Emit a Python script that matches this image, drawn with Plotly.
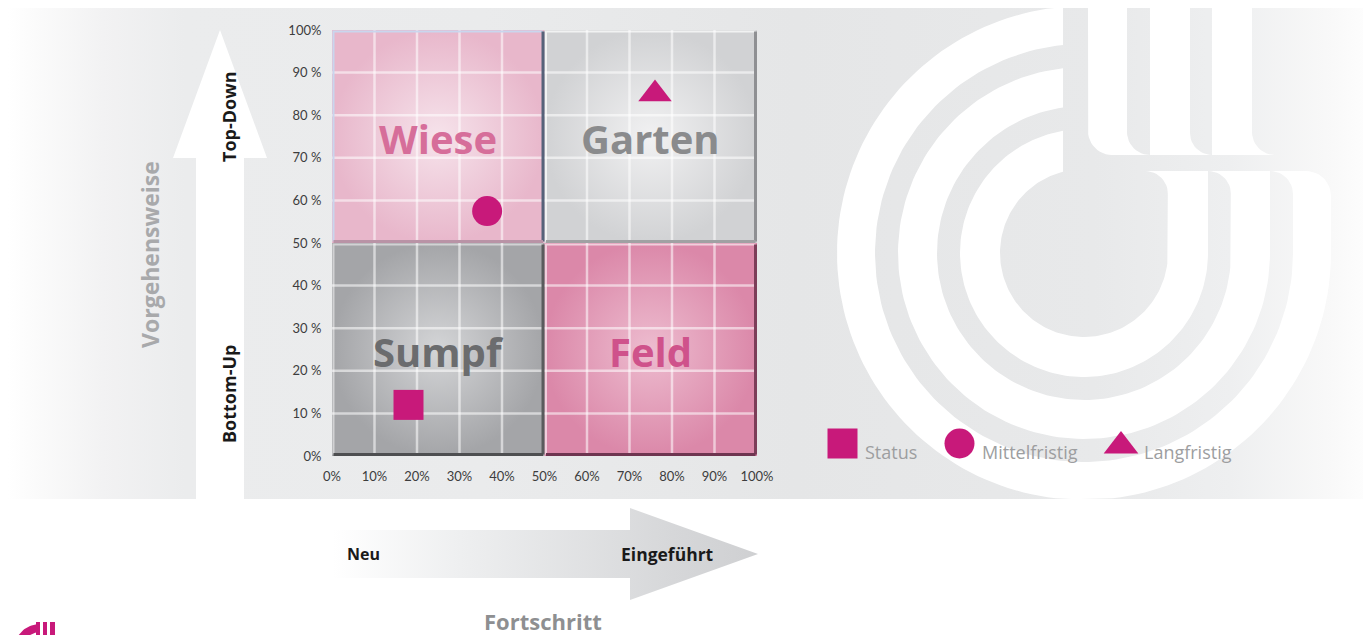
import math
import plotly.graph_objects as go

W, H = 1371, 635
OFF = 8                 # page margin of the browser body
FW, FH = W - OFF, H - OFF

# ---------------- data ----------------
x_tickvals = [0, 10, 20, 30, 40, 50, 60, 70, 80, 90, 100]
x_ticktext = ["0%", "10%", "20%", "30%", "40%", "50%", "60%", "70%", "80%", "90%", "100%"]
y_tickvals = [0, 10, 20, 30, 40, 50, 60, 70, 80, 90, 100]
y_ticktext = ["0%", "10 %", "20 %", "30 %", "40 %", "50 %", "60 %", "70 %", "80 %", "90 %", "100%"]

quadrant_names = ["Wiese", "Garten", "Sumpf", "Feld"]
quadrant_x0 = [0, 50, 0, 50]
quadrant_x1 = [50, 100, 50, 100]
quadrant_y0 = [50, 50, 0, 0]
quadrant_y1 = [100, 100, 50, 50]

series_names = ["Status", "Mittelfristig", "Langfristig"]
series_x = [18, 36.5, 76]
series_y = [12, 57.5, 85]
series_symbols = ["square", "circle", "triangle-up"]

# ---------------- styles ----------------
MAG = "#c8197a"
quad_center = ["#f6e3eb", "#f1f1f2", "#d4d5d7", "#edbccf"]
quad_edge = ["#e8b7cb", "#d1d2d4", "#a4a5a8", "#db88a9"]
quad_text = ["#d66e9a", "#8a8b8d", "#6b6c6e", "#cf528b"]
quad_shadow_r = ["#56627a", "#8f9093", "#5a5b5d", "#7c3e59"]
quad_shadow_b = ["#b993a6", "#a0a1a3", "#4e4f51", "#6e3550"]
quad_light = ["#c9d6ee", "rgba(255,255,255,0.7)", "rgba(255,255,255,0.5)", "rgba(255,255,255,0.6)"]

fig = go.Figure()


def bg(xs, ys, color=None, grad=None):
    tr = dict(x=xs, y=ys, mode="lines", fill="toself", line=dict(width=0),
              hoverinfo="skip", showlegend=False, xaxis="x", yaxis="y")
    if grad is not None:
        tr["fillgradient"] = grad
    else:
        tr["fillcolor"] = color
    fig.add_trace(go.Scatter(**tr))


# ---------------- background panel ----------------
PT, PB, PL, PR = 8, 499, 8, 1366
bg([PL, PR, PR, PL, PL], [PT, PT, PB, PB, PT],
   grad=dict(type="horizontal", start=PL, stop=PR,
             colorscale=[[0, "#ffffff"], [0.02, "#fbfbfb"], [0.07, "#f2f2f3"],
                         [0.13, "#ebeced"], [0.35, "#eaebec"], [0.58, "#e5e6e7"],
                         [0.8, "#e8e9ea"], [0.9, "#eeeff0"], [0.97, "#f8f8f8"],
                         [1, "#fdfdfd"]]))

# ---------------- decorative logo ----------------
cx, cy = 1084, 253
rings = [(84, 124), (147, 186), (209, 247)]
xcut = 1063
band_top = 171


def clampy(y):
    return min(max(y, PT), PB)


for idx, (ri, ro) in enumerate(rings):
    xs, ys = [], []
    po = math.degrees(math.acos((xcut - cx) / ro))
    pin = math.degrees(math.acos((xcut - cx) / ri))
    n = 140
    for k in range(n + 1):
        a = math.radians(po + (360 - po) * k / n)
        xs.append(cx + ro * math.cos(a))
        ys.append(clampy(cy - ro * math.sin(a)))
    if idx == len(rings) - 1:
        rc = 25
        xs.append(cx + ro); ys.append(band_top + rc)
        for k in range(1, 13):
            a = math.radians(90 * k / 12)
            xs.append(cx + ro - rc + rc * math.cos(a))
            ys.append(band_top + rc - rc * math.sin(a))
    else:
        xs.append(cx + ro); ys.append(band_top)
    xs.append(cx + ri); ys.append(band_top)
    xs.append(cx + ri); ys.append(cy)
    for k in range(n + 1):
        a = math.radians(360 - (360 - pin) * k / n)
        xs.append(cx + ri * math.cos(a))
        ys.append(clampy(cy - ri * math.sin(a)))
    xs.append(xs[0]); ys.append(ys[0])
    bg(xs, ys, color="#ffffff")
    g = 23
    xr = cx + ri
    fx = [xr - g, xr, xr]
    fy = [band_top, band_top, band_top + g]
    for k in range(1, 13):
        a = math.radians(90 * k / 12)
        fx.append(xr - g + g * math.cos(a))
        fy.append(band_top + g - g * math.sin(a))
    bg(fx, fy, color="#ffffff")

# top comb
stem_l = [1088, 1150, 1212]
stem_r = [1127, 1190, 1252]
next_l = [1150, 1212, 1275]
comb_bottom = 155
xs, ys = [stem_l[0]], [PT]
rc = 24
xs.append(stem_l[0]); ys.append(comb_bottom - rc)
for k in range(1, 13):
    a = math.radians(180 + 90 * k / 12)
    xs.append(stem_l[0] + rc + rc * math.cos(a))
    ys.append(comb_bottom - rc - rc * math.sin(a))
xs.append(next_l[-1]); ys.append(comb_bottom)
for j in range(len(stem_r) - 1, -1, -1):
    gw = next_l[j] - stem_r[j]
    if j < len(stem_r) - 1:
        xs.append(next_l[j]); ys.append(PT)
        xs.append(next_l[j]); ys.append(comb_bottom)
    for k in range(1, 13):
        a = math.radians(270 - 90 * k / 12)
        xs.append(next_l[j] + gw * math.cos(a))
        ys.append(comb_bottom - gw - gw * math.sin(a))
    xs.append(stem_r[j]); ys.append(PT)
xs.append(xs[0]); ys.append(ys[0])
bg(xs, ys, color="#ffffff")

# ---------------- arrows ----------------
bg([196, 196, 173, 220, 267, 244, 244, 196],
   [500, 158, 158, 30, 158, 158, 500, 500], color="#ffffff")
bg([333, 630, 630, 758, 630, 630, 333, 333],
   [530, 530, 508, 554, 600, 578, 578, 530],
   grad=dict(type="horizontal", start=333, stop=758,
             colorscale=[[0, "#ffffff"], [0.3, "#eeeff0"], [0.8, "#d6d7d9"], [1, "#cfd0d2"]]))

# small logo bottom-left
lx, ly = 40, 650
xs, ys = [], []
for k in range(0, 21):
    a = math.radians(95 + 70 * k / 20)
    xs.append(lx + 26 * math.cos(a)); ys.append(min(ly - 26 * math.sin(a), 636))
for k in range(0, 21):
    a = math.radians(165 - 70 * k / 20)
    xs.append(lx + 18 * math.cos(a)); ys.append(min(ly - 18 * math.sin(a), 636))
xs.append(xs[0]); ys.append(ys[0])
bg(xs, ys, color=MAG)
for bx0, bx1 in [(36, 40), (43, 47), (50, 55)]:
    bg([bx0, bx1, bx1, bx0, bx0], [622, 622, 636, 636, 622], color=MAG)

# ---------------- legend (drawn manually) ----------------
leg_x = [842.5, 959.5, 1121]
leg_y = [443.5, 443.5, 446]
leg_text_x = [863, 980, 1142]
for i, name in enumerate(series_names):
    fig.add_trace(go.Scatter(
        x=[leg_x[i]], y=[leg_y[i]], mode="markers", xaxis="x", yaxis="y",
        marker=dict(symbol=series_symbols[i], size=30, color=MAG, line=dict(width=0)),
        showlegend=False, hoverinfo="skip"))

# ---------------- quadrant chart ----------------
for i, name in enumerate(quadrant_names):
    x0, x1, y0, y1 = quadrant_x0[i], quadrant_x1[i], quadrant_y0[i], quadrant_y1[i]
    fig.add_trace(go.Scatter(
        x=[x0, x1, x1, x0, x0], y=[y0, y0, y1, y1, y0], mode="lines", fill="toself",
        line=dict(width=0), xaxis="x2", yaxis="y2", hoverinfo="skip", showlegend=False,
        fillgradient=dict(type="radial", colorscale=[[0, quad_center[i]], [1, quad_edge[i]]])))

gx, gy = [], []
for v in [10, 20, 30, 40, 60, 70, 80, 90]:
    gx += [v, v, None]; gy += [0, 100, None]
    gx += [0, 100, None]; gy += [v, v, None]
fig.add_trace(go.Scatter(x=gx, y=gy, mode="lines", xaxis="x2", yaxis="y2",
                         line=dict(color="rgba(255,255,255,0.55)", width=2.5),
                         hoverinfo="skip", showlegend=False))

ins = 0.35
for i in range(4):
    x0, x1, y0, y1 = quadrant_x0[i], quadrant_x1[i], quadrant_y0[i], quadrant_y1[i]
    fig.add_trace(go.Scatter(x=[x0 + ins, x0 + ins, x1 - ins], y=[y0 + ins, y1 - ins, y1 - ins],
                             mode="lines", xaxis="x2", yaxis="y2",
                             line=dict(color=quad_light[i], width=2),
                             hoverinfo="skip", showlegend=False))
    fig.add_trace(go.Scatter(x=[x1 - ins, x1 - ins], y=[y1 - ins, y0 + ins],
                             mode="lines", xaxis="x2", yaxis="y2",
                             line=dict(color=quad_shadow_r[i], width=3),
                             hoverinfo="skip", showlegend=False))
    fig.add_trace(go.Scatter(x=[x0 + ins, x1 - ins], y=[y0 + ins, y0 + ins],
                             mode="lines", xaxis="x2", yaxis="y2",
                             line=dict(color=quad_shadow_b[i], width=3),
                             hoverinfo="skip", showlegend=False))

for i, name in enumerate(series_names):
    fig.add_trace(go.Scatter(
        x=[series_x[i]], y=[series_y[i]], mode="markers", name=name,
        xaxis="x2", yaxis="y2", cliponaxis=False,
        marker=dict(symbol=series_symbols[i], size=30 if i < 2 else 29, color=MAG,
                    line=dict(width=0)),
        showlegend=False))

# ---------------- annotations ----------------
ann = []
for i, name in enumerate(quadrant_names):
    ann.append(dict(x=(quadrant_x0[i] + quadrant_x1[i]) / 2,
                    y=(quadrant_y0[i] + quadrant_y1[i]) / 2 - 0.5,
                    xref="x2", yref="y2", text=name, showarrow=False,
                    font=dict(family="Open Sans", size=40, color=quad_text[i], weight="bold")))

for i, name in enumerate(series_names):
    ann.append(dict(x=leg_text_x[i], y=452, xref="x", yref="y", text=name, showarrow=False,
                    xanchor="left", yanchor="middle",
                    font=dict(family="Open Sans", size=18, color="#9d9ea0")))

ann += [
    dict(x=150, y=255, xref="x", yref="y", text="Vorgehensweise", textangle=-90, showarrow=False,
         font=dict(family="Open Sans", size=23, color="#a8a9ab", weight="bold")),
    dict(x=229, y=117, xref="x", yref="y", text="Top-Down", textangle=-90, showarrow=False,
         font=dict(family="Open Sans", size=18, color="#1a1a1a", weight="bold")),
    dict(x=229, y=394, xref="x", yref="y", text="Bottom-Up", textangle=-90, showarrow=False,
         font=dict(family="Open Sans", size=18, color="#1a1a1a", weight="bold")),
    dict(x=345, y=554, xref="x", yref="y", text="Neu", xanchor="left", showarrow=False,
         font=dict(family="Open Sans", size=16, color="#1a1a1a", weight="bold")),
    dict(x=619, y=554, xref="x", yref="y", text="Eingeführt", xanchor="left", showarrow=False,
         font=dict(family="Open Sans", size=17.5, color="#1a1a1a", weight="bold")),
    dict(x=543, y=621, xref="x", yref="y", text="Fortschritt", showarrow=False,
         font=dict(family="Open Sans", size=22, color="#8e8f91", weight="bold")),
]

fig.update_layout(
    width=FW, height=FH, autosize=False,
    margin=dict(l=0, r=0, t=0, b=0, pad=0, autoexpand=False),
    paper_bgcolor="#ffffff", plot_bgcolor="rgba(0,0,0,0)",
    showlegend=False, annotations=ann,
    xaxis=dict(domain=[0, 1], range=[OFF, OFF + FW], visible=False, fixedrange=True,
               automargin=False),
    yaxis=dict(domain=[0, 1], range=[OFF + FH, OFF], visible=False, fixedrange=True,
               automargin=False),
    xaxis2=dict(domain=[(332 - OFF) / FW, (757 - OFF) / FW], range=[0, 100], anchor="y2",
                showgrid=False, zeroline=False, showline=False, automargin=False,
                tickvals=x_tickvals, ticktext=x_ticktext, ticks="outside", ticklen=8,
                tickcolor="rgba(0,0,0,0)", tickfont=dict(family="Lato", size=13, color="#3d3d3d"),
                fixedrange=True),
    yaxis2=dict(domain=[1 - (456 - OFF) / FH, 1 - (30 - OFF) / FH], range=[0, 100], anchor="x2",
                showgrid=False, zeroline=False, showline=False, automargin=False,
                tickvals=y_tickvals, ticktext=y_ticktext, ticks="outside", ticklen=7,
                tickcolor="rgba(0,0,0,0)", tickfont=dict(family="Lato", size=13, color="#3d3d3d"),
                fixedrange=True),
)

fig.write_html("out.html", config={"displayModeBar": False})
